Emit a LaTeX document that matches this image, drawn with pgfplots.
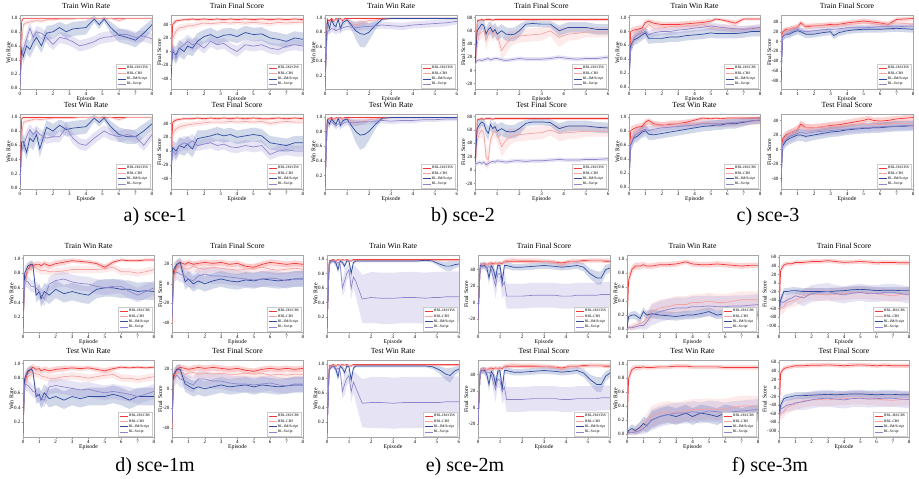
\documentclass[border=0pt]{standalone}
\usepackage{pgfplots}
\pgfplotsset{compat=1.18}
\usepackage{pgfplotstable}
\usepgfplotslibrary{fillbetween}
\usepackage{fontspec}
\setmainfont{Liberation Serif}

\definecolor{cA}{HTML}{F03A3A}
\definecolor{cB}{HTML}{F4A3A3}
\definecolor{cC}{HTML}{2F4C9E}
\definecolor{cD}{HTML}{8E86CC}

% columns: x, mean and half band of HRL-IM/CBS (a), HRL-CBS (b), RL-IM/Script (c), RL-Script (d)
% ---------------- sce-1 ----------------
\pgfplotstableread{
x a da b db c dc d dd
0 0.05 0.02 0.05 0.02 0.05 0.03 0.05 0.03
0.1 0.95 0.03 0.6 0.1 0.55 0.1 0.45 0.1
0.2 0.99 0.01 0.9 0.04 0.45 0.1 0.55 0.1
0.4 0.99 0.01 0.93 0.03 0.6 0.1 0.7 0.1
0.6 0.99 0.01 0.94 0.03 0.55 0.12 0.85 0.08
0.8 0.99 0.01 0.95 0.03 0.65 0.12 0.72 0.08
1.0 0.99 0.01 0.96 0.02 0.72 0.1 0.8 0.08
1.3 0.99 0.01 0.95 0.03 0.6 0.1 0.78 0.08
1.6 0.99 0.01 0.97 0.02 0.78 0.1 0.72 0.08
2.0 0.99 0.01 0.97 0.02 0.8 0.1 0.62 0.08
2.4 0.99 0.01 0.98 0.01 0.86 0.08 0.72 0.08
2.8 0.99 0.01 0.98 0.01 0.8 0.1 0.7 0.08
3.2 0.99 0.01 0.98 0.01 0.84 0.1 0.66 0.08
3.6 0.99 0.01 0.99 0.01 0.85 0.1 0.6 0.08
4.0 0.99 0.01 0.99 0.01 0.86 0.1 0.62 0.08
4.5 0.99 0.01 0.99 0.01 0.98 0.05 0.66 0.08
4.8 0.99 0.01 0.99 0.01 0.9 0.06 0.7 0.08
5.1 0.99 0.01 0.98 0.01 0.98 0.04 0.72 0.08
5.5 0.99 0.01 0.99 0.01 0.86 0.08 0.73 0.08
6.0 0.99 0.01 0.96 0.03 0.75 0.1 0.76 0.08
6.5 0.99 0.01 0.99 0.01 0.72 0.1 0.76 0.08
7.0 0.99 0.01 0.99 0.01 0.68 0.1 0.72 0.08
7.5 0.99 0.01 0.99 0.01 0.78 0.1 0.74 0.08
8.0 0.99 0.01 0.99 0.01 0.9 0.08 0.7 0.08
}\sAtrw
\pgfplotstableread{
x a da b db c dc d dd
0 -40 3 -30 5 -35 8 -25 8
0.1 40 4 20 8 0 10 5 10
0.3 45 3 30 6 -5 12 -10 10
0.5 46 2 35 5 5 12 5 10
0.8 47 2 36 5 0 12 10 10
1.0 47 2 38 4 8 12 15 10
1.3 48 2 38 4 5 12 10 10
1.6 47 2 40 4 15 12 12 8
2.0 48 2 42 4 22 10 5 8
2.4 47 2 41 3 25 10 15 8
2.8 48 2 42 3 20 10 10 8
3.2 47 2 43 3 24 10 12 8
3.6 48 2 42 3 25 10 5 8
4.0 47 2 43 3 22 10 0 8
4.5 48 2 42 3 28 10 10 8
5.0 47 2 43 3 25 10 8 8
5.5 48 2 42 3 26 10 10 8
6.0 47 2 41 4 20 10 5 8
6.5 48 2 43 3 18 10 3 8
7.0 47 2 42 3 15 10 8 8
7.5 48 2 43 3 20 10 10 8
8.0 47 2 43 3 18 10 8 8
}\sAtrs
\pgfplotstableread{
x a da b db c dc d dd
0 0.05 0.02 0.05 0.02 0.05 0.03 0.05 0.03
0.1 0.97 0.03 0.7 0.1 0.65 0.1 0.5 0.1
0.2 0.99 0.01 0.92 0.04 0.65 0.1 0.6 0.1
0.4 0.99 0.01 0.94 0.03 0.5 0.1 0.72 0.1
0.6 0.99 0.01 0.95 0.03 0.7 0.12 0.82 0.08
0.8 0.99 0.01 0.96 0.03 0.65 0.12 0.75 0.08
1.0 0.99 0.01 0.97 0.02 0.75 0.1 0.8 0.08
1.2 0.99 0.01 0.96 0.03 0.55 0.12 0.75 0.08
1.6 0.99 0.01 0.97 0.02 0.85 0.1 0.7 0.08
2.0 0.99 0.01 0.98 0.02 0.8 0.1 0.72 0.08
2.4 0.99 0.01 0.98 0.01 0.88 0.08 0.72 0.08
2.8 0.99 0.01 0.98 0.01 0.82 0.1 0.85 0.08
3.2 0.99 0.01 0.98 0.01 0.84 0.1 0.7 0.08
3.6 0.99 0.01 0.99 0.01 0.85 0.1 0.62 0.08
4.0 0.99 0.01 0.99 0.01 0.86 0.1 0.6 0.08
4.5 0.99 0.01 0.99 0.01 0.98 0.05 0.7 0.08
4.8 0.99 0.01 0.99 0.01 0.92 0.06 0.75 0.08
5.1 0.99 0.01 0.98 0.01 0.98 0.04 0.8 0.08
5.5 0.99 0.01 0.99 0.01 0.86 0.08 0.75 0.08
6.0 0.99 0.01 0.96 0.03 0.75 0.1 0.72 0.08
6.5 0.99 0.01 0.99 0.01 0.72 0.1 0.75 0.08
7.0 0.99 0.01 0.99 0.01 0.72 0.1 0.72 0.08
7.5 0.99 0.01 0.99 0.01 0.8 0.1 0.6 0.08
8.0 0.99 0.01 0.99 0.01 0.9 0.08 0.75 0.08
}\sAtew
\pgfplotstableread{
x a da b db c dc d dd
0 -40 3 -30 5 -35 8 -25 8
0.1 42 4 25 8 5 10 0 10
0.3 45 3 32 6 0 12 -5 10
0.5 46 2 35 5 8 12 8 10
0.8 47 2 37 5 5 12 12 10
1.0 47 2 38 4 10 12 10 10
1.3 47 2 39 4 3 12 15 10
1.6 48 2 40 4 18 12 8 8
2.0 47 2 41 4 20 10 10 8
2.4 48 2 42 3 22 10 12 8
2.8 47 2 42 3 25 10 8 8
3.2 48 2 42 3 22 10 10 8
3.6 47 2 43 3 24 10 6 8
4.0 48 2 42 3 20 10 5 8
4.5 47 2 43 3 22 10 8 8
5.0 48 2 42 3 24 10 6 8
5.5 47 2 43 3 22 10 8 8
6.0 47 2 40 4 12 10 -5 8
6.5 48 2 42 3 10 10 0 8
7.0 47 2 43 3 8 10 2 8
7.5 48 2 42 3 12 10 0 8
8.0 47 2 42 3 12 10 0 8
}\sAtes
% ---------------- sce-2 ----------------
\pgfplotstableread{
x a da b db c dc d dd
0 0.05 0.02 0.05 0.02 0.05 0.02 0.05 0.02
0.1 0.97 0.02 0.9 0.05 0.97 0.03 0.8 0.05
0.2 0.96 0.02 0.95 0.03 0.85 0.08 0.83 0.05
0.3 0.99 0.01 0.97 0.02 0.97 0.03 0.85 0.05
0.4 0.95 0.03 0.96 0.02 0.9 0.05 0.84 0.05
0.5 0.99 0.01 0.97 0.02 0.88 0.06 0.82 0.05
0.6 0.98 0.01 0.98 0.01 0.98 0.02 0.84 0.05
0.7 0.99 0.01 0.97 0.02 0.85 0.08 0.85 0.05
0.8 0.96 0.02 0.98 0.01 0.93 0.05 0.86 0.05
0.9 0.99 0.01 0.97 0.02 0.95 0.04 0.87 0.05
1.0 0.99 0.01 0.98 0.01 0.97 0.03 0.88 0.05
1.2 0.99 0.01 0.92 0.04 0.9 0.06 0.87 0.05
1.4 0.99 0.01 0.9 0.05 0.82 0.12 0.86 0.05
1.6 0.99 0.01 0.92 0.05 0.78 0.18 0.87 0.05
1.8 0.99 0.01 0.94 0.04 0.77 0.18 0.88 0.05
2.0 0.99 0.01 0.96 0.03 0.8 0.12 0.88 0.05
2.3 0.99 0.01 0.97 0.02 0.9 0.06 0.89 0.05
2.6 0.99 0.01 0.98 0.01 0.98 0.02 0.9 0.05
3.0 0.99 0.01 0.99 0.01 0.99 0.01 0.89 0.05
3.5 0.99 0.01 0.99 0.01 0.99 0.01 0.88 0.05
4.0 0.99 0.01 0.99 0.01 0.99 0.01 0.9 0.05
4.5 0.99 0.01 0.99 0.01 0.99 0.01 0.91 0.05
5.0 0.99 0.01 0.99 0.01 0.99 0.01 0.92 0.05
5.5 0.99 0.01 0.99 0.01 0.99 0.01 0.93 0.05
6.0 0.99 0.01 0.99 0.01 0.99 0.01 0.95 0.04
}\sBtrw
\pgfplotstableread{
x a da b db c dc d dd
0 -5 5 0 5 10 5 10 5
0.1 75 3 40 10 60 10 15 3
0.2 76 2 55 10 65 10 16 3
0.3 77 2 58 10 70 8 15 3
0.4 76 2 60 10 68 8 16 3
0.5 77 2 45 15 55 10 17 3
0.6 77 2 55 12 62 10 18 3
0.7 77 2 60 10 65 10 16 3
0.8 76 2 55 12 58 10 17 3
0.9 77 2 58 10 62 10 18 3
1.0 77 2 55 12 55 10 18 3
1.2 77 2 30 15 60 10 16 3
1.4 77 2 40 15 55 10 15 3
1.6 77 2 48 12 54 10 16 3
1.8 77 2 50 10 55 10 17 3
2.0 77 2 52 10 60 10 18 3
2.3 77 2 53 10 70 5 17 3
2.6 77 2 54 10 71 5 17 3
3.0 77 2 55 10 70 5 17 3
3.4 77 2 60 8 70 5 18 3
3.8 77 2 50 15 60 8 20 3
4.2 77 2 55 10 65 8 18 3
4.6 77 2 56 10 65 8 17 3
5.0 77 2 58 8 65 8 18 3
5.5 77 2 58 8 62 8 18 3
6.0 77 2 58 8 62 8 20 3
}\sBtrs
\pgfplotstableread{
x a da b db c dc d dd
0 0.05 0.02 0.05 0.02 0.05 0.02 0.05 0.02
0.1 0.96 0.03 0.9 0.05 0.95 0.03 0.9 0.05
0.2 0.98 0.02 0.95 0.03 0.9 0.06 0.92 0.05
0.3 0.99 0.01 0.97 0.02 0.97 0.03 0.93 0.04
0.4 0.96 0.02 0.96 0.02 0.93 0.04 0.9 0.05
0.5 0.99 0.01 0.97 0.02 0.9 0.05 0.88 0.05
0.6 0.98 0.01 0.98 0.01 0.98 0.02 0.9 0.05
0.7 0.99 0.01 0.96 0.02 0.88 0.06 0.92 0.05
0.8 0.97 0.02 0.98 0.01 0.94 0.04 0.9 0.05
0.9 0.99 0.01 0.97 0.02 0.96 0.03 0.92 0.05
1.0 0.99 0.01 0.98 0.01 0.97 0.03 0.93 0.05
1.2 0.99 0.01 0.94 0.04 0.88 0.08 0.92 0.05
1.4 0.99 0.01 0.92 0.05 0.8 0.15 0.92 0.05
1.6 0.99 0.01 0.93 0.05 0.75 0.2 0.93 0.04
1.8 0.99 0.01 0.95 0.04 0.76 0.18 0.93 0.04
2.0 0.99 0.01 0.96 0.03 0.8 0.12 0.94 0.04
2.3 0.99 0.01 0.97 0.02 0.9 0.06 0.94 0.04
2.6 0.99 0.01 0.98 0.01 0.98 0.02 0.95 0.04
3.0 0.99 0.01 0.99 0.01 0.99 0.01 0.94 0.04
3.5 0.99 0.01 0.99 0.01 0.99 0.01 0.95 0.04
4.0 0.99 0.01 0.99 0.01 0.99 0.01 0.95 0.04
4.5 0.99 0.01 0.99 0.01 0.99 0.01 0.96 0.03
5.0 0.99 0.01 0.99 0.01 0.99 0.01 0.96 0.03
5.5 0.99 0.01 0.99 0.01 0.99 0.01 0.97 0.03
6.0 0.99 0.01 0.99 0.01 0.99 0.01 0.97 0.03
}\sBtew
\pgfplotstableread{
x a da b db c dc d dd
0 -5 5 0 5 10 5 10 5
0.1 75 3 45 10 62 10 10 3
0.2 76 2 55 10 68 8 12 3
0.3 77 2 60 10 72 6 10 3
0.4 76 2 55 12 70 6 12 3
0.5 77 2 20 15 60 10 8 3
0.6 77 2 15 15 55 10 10 3
0.7 77 2 45 12 68 8 12 3
0.8 76 2 55 10 62 8 13 3
0.9 77 2 58 10 65 8 12 3
1.0 77 2 55 12 58 10 14 3
1.2 77 2 35 15 62 10 13 3
1.4 77 2 45 15 58 10 12 3
1.6 77 2 50 12 57 10 13 3
1.8 77 2 52 10 58 10 14 3
2.0 77 2 53 10 62 10 14 3
2.3 77 2 54 10 70 5 13 3
2.6 77 2 55 10 72 5 14 3
3.0 77 2 56 10 72 5 14 3
3.4 77 2 60 8 71 5 15 3
3.8 77 2 55 12 62 8 16 3
4.2 77 2 56 10 66 8 15 3
4.6 77 2 57 10 66 8 15 3
5.0 77 2 58 8 66 8 16 3
5.5 77 2 58 8 64 8 16 3
6.0 77 2 58 8 63 8 17 3
}\sBtes
% ---------------- sce-3 ----------------
\pgfplotstableread{
x a da b db c dc d dd
0 0.05 0.03 0.05 0.03 0.05 0.03 0.05 0.03
0.1 0.8 0.05 0.6 0.1 0.6 0.1 0.55 0.1
0.3 0.82 0.05 0.72 0.08 0.68 0.08 0.7 0.08
0.5 0.83 0.05 0.75 0.08 0.7 0.08 0.75 0.08
0.8 0.85 0.05 0.8 0.06 0.75 0.08 0.78 0.08
1.0 0.93 0.04 0.85 0.06 0.78 0.08 0.8 0.06
1.2 0.95 0.03 0.9 0.05 0.7 0.08 0.75 0.06
1.5 0.92 0.04 0.85 0.05 0.7 0.07 0.78 0.06
2.0 0.9 0.04 0.85 0.05 0.7 0.07 0.8 0.05
2.5 0.9 0.04 0.87 0.05 0.72 0.07 0.8 0.05
3.0 0.9 0.04 0.88 0.05 0.72 0.07 0.82 0.05
3.5 0.91 0.04 0.88 0.05 0.74 0.07 0.83 0.05
4.0 0.92 0.04 0.88 0.05 0.75 0.07 0.85 0.05
4.5 0.93 0.04 0.9 0.05 0.76 0.07 0.86 0.05
5.0 0.95 0.03 0.86 0.05 0.78 0.07 0.88 0.05
5.3 0.98 0.02 0.85 0.05 0.77 0.07 0.87 0.05
5.6 0.97 0.02 0.85 0.05 0.77 0.07 0.86 0.05
6.0 0.95 0.03 0.85 0.05 0.77 0.07 0.85 0.05
6.5 0.92 0.04 0.83 0.05 0.77 0.07 0.84 0.05
7.0 0.98 0.02 0.83 0.05 0.78 0.07 0.83 0.05
7.5 0.98 0.02 0.84 0.05 0.8 0.07 0.84 0.05
8.0 0.98 0.02 0.85 0.05 0.8 0.07 0.86 0.05
}\sCtrw
\pgfplotstableread{
x a da b db c dc d dd
0 -60 10 -50 10 -80 10 -70 10
0.1 20 6 15 8 10 8 10 8
0.3 25 5 22 6 15 8 15 8
0.5 25 5 25 6 15 8 18 8
0.8 28 5 28 6 20 8 22 8
1.0 30 5 30 6 22 8 25 6
1.2 38 5 35 6 20 8 22 6
1.5 30 5 32 6 15 8 20 6
2.0 32 5 32 5 15 7 22 6
2.5 33 5 32 5 18 7 24 6
3.0 35 5 33 5 20 7 25 6
3.2 34 5 33 5 12 7 25 6
3.5 35 5 34 5 18 7 26 6
4.0 38 5 35 5 22 7 28 6
4.5 40 5 36 5 24 7 28 6
5.0 42 5 38 5 25 7 28 6
5.5 40 5 37 5 25 7 29 6
6.0 38 5 35 5 25 7 30 6
6.5 35 5 36 5 26 7 30 6
7.0 45 4 38 5 27 7 30 6
7.5 46 4 37 5 26 7 31 6
8.0 47 4 35 5 25 7 32 6
}\sCtrs
\pgfplotstableread{
x a da b db c dc d dd
0 0.05 0.03 0.05 0.03 0.05 0.03 0.05 0.03
0.1 0.8 0.06 0.65 0.1 0.6 0.1 0.6 0.1
0.3 0.83 0.05 0.75 0.08 0.7 0.08 0.72 0.08
0.5 0.85 0.05 0.78 0.08 0.72 0.08 0.76 0.08
0.8 0.86 0.05 0.82 0.06 0.78 0.08 0.8 0.08
1.0 0.92 0.04 0.88 0.06 0.8 0.08 0.82 0.06
1.2 0.95 0.03 0.9 0.05 0.75 0.08 0.8 0.06
1.5 0.9 0.04 0.88 0.05 0.74 0.07 0.82 0.06
2.0 0.88 0.04 0.88 0.05 0.76 0.07 0.84 0.05
2.5 0.89 0.04 0.9 0.05 0.78 0.07 0.85 0.05
3.0 0.9 0.04 0.9 0.05 0.8 0.07 0.86 0.05
3.5 0.92 0.04 0.9 0.05 0.82 0.07 0.87 0.05
4.0 0.95 0.03 0.9 0.05 0.84 0.07 0.88 0.05
4.5 0.98 0.02 0.92 0.05 0.86 0.07 0.9 0.05
5.0 0.97 0.02 0.9 0.05 0.87 0.07 0.9 0.05
5.3 0.98 0.02 0.9 0.05 0.88 0.07 0.9 0.05
5.6 0.97 0.02 0.9 0.05 0.88 0.07 0.9 0.05
6.0 0.98 0.02 0.9 0.05 0.9 0.07 0.91 0.05
6.5 0.98 0.02 0.9 0.05 0.9 0.07 0.92 0.05
7.0 0.98 0.02 0.92 0.05 0.92 0.06 0.93 0.05
7.5 0.98 0.02 0.93 0.05 0.94 0.05 0.94 0.05
8.0 0.98 0.02 0.94 0.05 0.95 0.05 0.95 0.05
}\sCtew
\pgfplotstableread{
x a da b db c dc d dd
0 -40 5 -35 5 -45 5 -45 5
0.1 15 6 10 8 5 8 8 8
0.3 20 5 18 6 12 8 14 8
0.5 22 5 22 6 15 8 18 8
0.8 25 5 25 6 18 8 20 8
1.0 28 5 28 6 20 8 22 6
1.2 35 5 32 6 20 8 24 6
1.5 30 5 30 6 18 8 22 6
2.0 30 5 30 5 20 7 24 6
2.5 31 5 31 5 22 7 25 6
3.0 33 5 32 5 24 7 26 6
3.5 34 5 32 5 25 7 27 6
4.0 36 5 33 5 27 7 28 6
4.5 38 5 34 5 28 7 29 6
5.0 40 5 35 5 29 7 30 6
5.3 42 4 34 5 29 7 30 6
5.6 40 4 34 5 30 7 31 6
6.0 39 5 34 5 30 7 31 6
6.5 40 5 35 5 31 7 32 6
7.0 42 4 36 5 32 7 32 6
7.5 43 4 36 5 32 7 33 6
8.0 44 4 35 5 33 7 33 6
}\sCtes
% ---------------- sce-1m ----------------
\pgfplotstableread{
x a da b db c dc d dd
0 0.05 0.03 0.05 0.03 0.05 0.03 0.05 0.03
0.1 0.7 0.1 0.6 0.1 0.8 0.08 0.7 0.08
0.3 0.85 0.06 0.85 0.06 0.9 0.05 0.68 0.08
0.5 0.92 0.04 0.85 0.05 0.92 0.05 0.62 0.08
0.6 0.9 0.04 0.9 0.05 0.92 0.05 0.62 0.08
0.8 0.92 0.04 0.87 0.05 0.5 0.1 0.6 0.08
1.0 0.92 0.04 0.85 0.05 0.55 0.1 0.55 0.1
1.1 0.9 0.04 0.83 0.05 0.45 0.12 0.5 0.1
1.3 0.93 0.04 0.84 0.05 0.55 0.12 0.45 0.1
1.6 0.9 0.04 0.82 0.05 0.5 0.12 0.65 0.1
2.0 0.93 0.04 0.82 0.05 0.58 0.12 0.7 0.1
2.5 0.95 0.04 0.83 0.05 0.52 0.12 0.72 0.1
3.0 0.97 0.03 0.85 0.05 0.55 0.12 0.68 0.1
3.5 0.96 0.03 0.85 0.05 0.52 0.12 0.66 0.1
4.0 0.95 0.03 0.85 0.05 0.5 0.12 0.65 0.1
4.5 0.93 0.03 0.85 0.05 0.58 0.12 0.62 0.1
5.0 0.88 0.04 0.86 0.05 0.6 0.12 0.6 0.1
5.5 0.95 0.03 0.88 0.05 0.6 0.12 0.62 0.1
6.0 0.98 0.02 0.82 0.05 0.58 0.12 0.62 0.1
6.5 0.97 0.02 0.82 0.05 0.58 0.12 0.55 0.1
7.0 0.97 0.02 0.8 0.05 0.55 0.12 0.5 0.1
7.5 0.98 0.02 0.82 0.05 0.56 0.12 0.55 0.1
8.0 0.98 0.02 0.85 0.05 0.55 0.12 0.6 0.1
}\sDtrw
\pgfplotstableread{
x a da b db c dc d dd
0 -40 5 -40 5 -35 5 -35 5
0.1 10 6 5 8 15 6 10 8
0.3 20 4 15 5 20 5 12 8
0.5 22 3 18 5 22 5 10 8
0.8 20 3 16 5 2 8 8 8
1.0 22 3 15 5 5 8 5 8
1.3 20 3 18 5 0 8 3 8
1.6 21 3 16 5 3 8 8 8
2.0 22 3 15 5 0 8 10 8
2.5 21 3 17 5 3 8 8 8
3.0 22 3 16 5 5 8 8 8
3.5 20 3 15 5 3 8 7 8
4.0 21 3 14 5 2 8 6 8
4.5 18 3 15 5 4 8 5 8
5.0 17 3 16 5 3 8 4 8
5.5 20 3 17 5 5 8 5 8
6.0 22 3 15 5 4 8 6 8
6.5 21 3 14 5 3 8 5 8
7.0 20 3 15 5 4 8 3 8
7.5 21 3 16 5 5 8 5 8
8.0 20 3 15 5 5 8 6 8
}\sDtrs
\pgfplotstableread{
x a da b db c dc d dd
0 0.05 0.03 0.05 0.03 0.05 0.03 0.05 0.03
0.1 0.75 0.1 0.65 0.1 0.8 0.08 0.72 0.08
0.3 0.88 0.06 0.82 0.06 0.9 0.05 0.7 0.08
0.5 0.93 0.04 0.85 0.05 0.92 0.05 0.65 0.08
0.6 0.95 0.04 0.88 0.05 0.9 0.05 0.62 0.08
0.8 0.92 0.04 0.86 0.05 0.55 0.1 0.6 0.08
1.0 0.93 0.04 0.85 0.05 0.58 0.1 0.55 0.1
1.1 0.9 0.04 0.83 0.05 0.5 0.12 0.52 0.1
1.3 0.92 0.04 0.82 0.05 0.6 0.12 0.5 0.1
1.6 0.9 0.04 0.8 0.05 0.52 0.12 0.68 0.1
2.0 0.92 0.04 0.8 0.05 0.55 0.12 0.7 0.1
2.5 0.93 0.04 0.82 0.05 0.5 0.12 0.68 0.1
3.0 0.94 0.03 0.83 0.05 0.55 0.12 0.66 0.1
3.5 0.93 0.03 0.82 0.05 0.52 0.12 0.64 0.1
4.0 0.94 0.03 0.8 0.05 0.55 0.12 0.65 0.1
4.5 0.92 0.03 0.82 0.05 0.55 0.12 0.62 0.1
5.0 0.9 0.04 0.84 0.05 0.55 0.12 0.6 0.1
5.5 0.93 0.03 0.85 0.05 0.58 0.12 0.62 0.1
6.0 0.95 0.02 0.8 0.05 0.55 0.12 0.6 0.1
6.5 0.94 0.02 0.8 0.05 0.5 0.12 0.58 0.1
7.0 0.95 0.02 0.78 0.05 0.55 0.12 0.55 0.1
7.5 0.94 0.02 0.8 0.05 0.55 0.12 0.58 0.1
8.0 0.95 0.02 0.82 0.05 0.55 0.12 0.62 0.1
}\sDtew
\pgfplotstableread{
x a da b db c dc d dd
0 -40 5 -40 5 -35 5 -35 5
0.1 12 6 8 8 15 6 10 8
0.3 20 4 18 5 20 5 14 8
0.5 22 3 16 5 20 5 10 8
0.8 21 3 15 5 5 8 8 8
1.0 20 3 16 5 3 8 6 8
1.3 21 3 17 5 0 8 4 8
1.6 22 3 15 5 2 8 10 8
2.0 21 3 16 5 0 8 10 8
2.5 22 3 15 5 2 8 8 8
3.0 21 3 16 5 4 8 8 8
3.5 20 3 15 5 2 8 6 8
4.0 21 3 15 5 3 8 5 8
4.5 19 3 16 5 4 8 5 8
5.0 18 3 15 5 2 8 4 8
5.5 20 3 16 5 4 8 5 8
6.0 21 3 14 5 3 8 6 8
6.5 20 3 15 5 2 8 4 8
7.0 21 3 14 5 3 8 3 8
7.5 20 3 15 5 4 8 5 8
8.0 21 3 15 5 4 8 5 8
}\sDtes
% ---------------- sce-2m ----------------
\pgfplotstableread{
x a da b db c dc d dd
0 0.05 0.02 0.05 0.02 0.05 0.02 0.05 0.02
0.1 0.97 0.02 0.95 0.03 0.93 0.03 0.95 0.03
0.2 0.98 0.01 0.97 0.02 0.97 0.02 0.96 0.03
0.3 0.99 0.01 0.98 0.01 0.97 0.02 0.97 0.03
0.4 0.97 0.02 0.97 0.02 0.95 0.03 0.93 0.05
0.5 0.99 0.01 0.98 0.01 0.85 0.05 0.95 0.04
0.6 0.98 0.01 0.98 0.01 0.97 0.02 0.92 0.05
0.7 0.99 0.01 0.97 0.02 0.95 0.03 0.6 0.1
0.8 0.98 0.01 0.98 0.01 0.9 0.04 0.7 0.15
0.9 0.99 0.01 0.97 0.02 0.97 0.02 0.8 0.1
1.0 0.98 0.01 0.98 0.01 0.97 0.02 0.85 0.1
1.1 0.97 0.02 0.97 0.02 0.8 0.06 0.6 0.15
1.2 0.99 0.01 0.98 0.01 0.95 0.03 0.75 0.15
1.3 0.99 0.01 0.98 0.01 0.97 0.02 0.7 0.2
1.6 0.99 0.01 0.98 0.01 0.97 0.02 0.45 0.33
2.0 0.99 0.01 0.98 0.01 0.97 0.02 0.47 0.35
2.5 0.99 0.01 0.98 0.01 0.97 0.02 0.46 0.35
3.0 0.99 0.01 0.98 0.01 0.97 0.02 0.46 0.35
3.5 0.99 0.01 0.98 0.01 0.97 0.02 0.47 0.35
4.0 0.99 0.01 0.98 0.01 0.97 0.02 0.47 0.35
4.5 0.99 0.01 0.98 0.01 0.98 0.02 0.46 0.35
4.8 0.99 0.01 0.98 0.01 0.97 0.02 0.47 0.35
5.1 0.99 0.01 0.98 0.01 0.93 0.04 0.47 0.35
5.4 0.99 0.01 0.98 0.01 0.9 0.06 0.48 0.35
5.6 0.99 0.01 0.98 0.01 0.9 0.07 0.48 0.35
5.8 0.99 0.01 0.98 0.01 0.92 0.05 0.48 0.35
6.0 0.99 0.01 0.98 0.01 0.93 0.04 0.48 0.35
}\sEtrw
\pgfplotstableread{
x a da b db c dc d dd
0 -20 5 -20 5 -20 5 -20 5
0.1 45 3 44 4 45 4 43 4
0.2 46 2 46 3 44 4 45 4
0.3 47 2 47 3 45 4 44 4
0.4 46 2 46 3 42 5 42 5
0.5 47 2 47 3 30 8 44 5
0.6 48 2 47 3 45 4 40 6
0.7 47 2 46 3 40 6 30 10
0.8 48 2 48 3 30 8 20 15
0.9 47 2 47 3 45 4 35 10
1.0 48 2 48 3 45 4 35 10
1.1 47 2 48 3 25 8 20 15
1.2 50 2 50 3 45 4 25 15
1.3 50 2 51 3 45 4 8 15
1.6 50 2 52 3 43 4 8 15
2.0 50 2 51 3 43 4 8 15
2.5 50 2 51 3 44 4 9 15
3.0 50 2 50 3 45 4 9 15
3.5 49 2 49 3 44 4 9 15
3.8 48 2 45 4 43 4 8 15
4.2 50 2 50 3 44 4 8 15
4.5 50 2 50 3 45 4 9 15
4.8 51 2 50 3 43 5 9 15
5.1 51 2 51 3 35 6 9 15
5.4 51 2 51 3 30 8 9 15
5.6 51 2 51 3 30 8 10 15
5.8 50 2 51 3 40 6 10 15
6.0 50 2 51 3 42 5 10 15
}\sEtrs
\pgfplotstableread{
x a da b db c dc d dd
0 0.05 0.02 0.05 0.02 0.05 0.02 0.05 0.02
0.1 0.97 0.02 0.95 0.03 0.92 0.04 0.94 0.03
0.2 0.98 0.01 0.97 0.02 0.96 0.02 0.96 0.03
0.3 0.99 0.01 0.98 0.01 0.97 0.02 0.96 0.03
0.4 0.97 0.02 0.97 0.02 0.93 0.04 0.92 0.05
0.5 0.99 0.01 0.98 0.01 0.82 0.06 0.94 0.04
0.6 0.98 0.01 0.98 0.01 0.97 0.02 0.9 0.05
0.7 0.99 0.01 0.97 0.02 0.94 0.03 0.62 0.1
0.8 0.98 0.01 0.98 0.01 0.88 0.05 0.72 0.15
0.9 0.99 0.01 0.97 0.02 0.97 0.02 0.8 0.1
1.0 0.98 0.01 0.98 0.01 0.96 0.02 0.84 0.1
1.1 0.97 0.02 0.97 0.02 0.78 0.06 0.62 0.15
1.2 0.99 0.01 0.98 0.01 0.94 0.03 0.75 0.15
1.3 0.99 0.01 0.98 0.01 0.97 0.02 0.68 0.2
1.6 0.99 0.01 0.98 0.01 0.97 0.02 0.46 0.33
2.0 0.99 0.01 0.98 0.01 0.97 0.02 0.47 0.35
2.5 0.99 0.01 0.98 0.01 0.97 0.02 0.47 0.35
3.0 0.99 0.01 0.98 0.01 0.97 0.02 0.46 0.35
3.5 0.99 0.01 0.98 0.01 0.97 0.02 0.47 0.35
4.0 0.99 0.01 0.98 0.01 0.97 0.02 0.47 0.35
4.5 0.99 0.01 0.98 0.01 0.97 0.02 0.47 0.35
4.8 0.99 0.01 0.98 0.01 0.96 0.03 0.47 0.35
5.1 0.99 0.01 0.98 0.01 0.92 0.05 0.47 0.35
5.4 0.99 0.01 0.98 0.01 0.86 0.08 0.48 0.35
5.6 0.99 0.01 0.98 0.01 0.84 0.1 0.48 0.35
5.8 0.99 0.01 0.98 0.01 0.9 0.06 0.48 0.35
6.0 0.99 0.01 0.98 0.01 0.93 0.04 0.48 0.35
}\sEtew
\pgfplotstableread{
x a da b db c dc d dd
0 -20 5 -20 5 -20 5 -20 5
0.1 44 3 44 4 44 4 43 4
0.2 46 2 46 3 45 4 45 4
0.3 47 2 47 3 45 4 44 4
0.4 46 2 46 3 40 5 42 5
0.5 47 2 47 3 28 8 43 5
0.6 48 2 47 3 44 4 40 6
0.7 47 2 46 3 40 6 30 10
0.8 48 2 48 3 28 8 22 15
0.9 47 2 47 3 44 4 35 10
1.0 48 2 48 3 45 4 33 10
1.1 47 2 48 3 22 8 20 15
1.2 50 2 50 3 45 4 25 15
1.3 50 2 51 3 45 4 10 15
1.6 50 2 52 3 43 4 10 15
2.0 50 2 51 3 43 4 10 15
2.5 50 2 51 3 44 4 11 15
3.0 50 2 50 3 45 4 11 15
3.5 49 2 49 3 44 4 11 15
3.8 48 2 46 4 43 4 10 15
4.2 50 2 50 3 44 4 10 15
4.5 50 2 50 3 45 4 11 15
4.8 51 2 50 3 42 5 11 15
5.1 51 2 51 3 34 6 11 15
5.4 51 2 51 3 28 9 11 15
5.6 51 2 51 3 28 9 12 15
5.8 50 2 51 3 38 6 12 15
6.0 50 2 51 3 42 5 12 15
}\sEtes
% ---------------- sce-3m ----------------
\pgfplotstableread{
x a da b db c dc d dd
0 0.05 0.03 0.0 0.02 0.0 0.02 0.0 0.02
0.1 0.7 0.1 0.02 0.03 0.18 0.05 0.02 0.03
0.3 0.85 0.06 0.03 0.05 0.2 0.05 0.02 0.03
0.5 0.9 0.05 0.05 0.05 0.2 0.06 0.03 0.04
0.8 0.9 0.05 0.08 0.06 0.15 0.06 0.05 0.05
1.0 0.92 0.04 0.1 0.08 0.25 0.06 0.05 0.06
1.2 0.9 0.04 0.15 0.1 0.2 0.06 0.1 0.1
1.5 0.9 0.04 0.25 0.12 0.22 0.06 0.2 0.15
2.0 0.92 0.04 0.3 0.12 0.2 0.06 0.25 0.15
2.5 0.92 0.04 0.32 0.12 0.19 0.06 0.28 0.15
3.0 0.93 0.04 0.35 0.12 0.18 0.06 0.3 0.15
3.6 0.96 0.03 0.35 0.12 0.2 0.06 0.3 0.15
4.0 0.93 0.04 0.38 0.12 0.2 0.06 0.32 0.15
4.5 0.92 0.04 0.38 0.12 0.22 0.06 0.32 0.15
5.0 0.92 0.04 0.4 0.12 0.25 0.06 0.33 0.15
5.5 0.93 0.04 0.38 0.12 0.2 0.06 0.32 0.15
6.0 0.92 0.04 0.38 0.12 0.22 0.06 0.32 0.15
6.5 0.91 0.04 0.4 0.12 0.2 0.06 0.33 0.15
7.0 0.9 0.04 0.42 0.12 0.2 0.06 0.33 0.15
7.5 0.91 0.04 0.42 0.12 0.2 0.06 0.34 0.15
8.0 0.91 0.04 0.42 0.12 0.2 0.06 0.35 0.15
}\sFtrw
\pgfplotstableread{
x a da b db c dc d dd
0 -80 10 -70 10 -70 10 -70 10
0.1 30 8 -60 15 -40 10 -45 15
0.3 42 6 -55 15 -20 8 -45 15
0.5 45 5 -45 15 -20 8 -40 15
0.8 45 5 -42 15 -18 8 -35 15
1.0 48 5 -40 15 -18 8 -30 15
1.5 48 5 -30 15 -20 8 -35 20
2.0 50 5 -25 15 -20 8 -25 20
2.5 50 5 -27 15 -20 8 -22 20
3.0 52 5 -28 15 -20 8 -20 20
3.5 50 5 -26 15 -19 8 -25 20
4.0 48 5 -25 15 -18 8 -28 20
4.5 49 5 -23 15 -16 8 -24 20
5.0 50 5 -22 15 -15 8 -22 20
5.5 49 5 -24 15 -16 8 -25 20
6.0 47 5 -25 15 -18 8 -25 20
6.5 48 5 -28 15 -17 8 -22 20
7.0 48 5 -30 15 -17 8 -22 20
7.5 47 5 -27 15 -18 8 -25 20
8.0 47 5 -25 15 -18 8 -28 20
}\sFtrs
\pgfplotstableread{
x a da b db c dc d dd
0 0.05 0.03 0.0 0.02 0.0 0.02 0.0 0.02
0.1 0.8 0.08 0.02 0.03 0.05 0.05 0.02 0.03
0.3 0.92 0.05 0.03 0.05 0.08 0.06 0.02 0.03
0.5 0.95 0.04 0.05 0.06 0.05 0.06 0.03 0.04
0.8 0.95 0.04 0.08 0.08 0.1 0.08 0.05 0.05
1.0 0.96 0.03 0.12 0.1 0.15 0.1 0.08 0.08
1.2 0.95 0.03 0.18 0.12 0.12 0.1 0.12 0.1
1.5 0.95 0.03 0.25 0.15 0.2 0.12 0.2 0.15
2.0 0.96 0.03 0.3 0.15 0.25 0.12 0.25 0.15
2.5 0.96 0.03 0.32 0.15 0.28 0.12 0.28 0.15
3.0 0.97 0.03 0.3 0.15 0.25 0.12 0.3 0.15
3.6 0.97 0.03 0.33 0.15 0.3 0.12 0.3 0.15
4.0 0.96 0.03 0.35 0.15 0.25 0.12 0.32 0.15
4.5 0.96 0.03 0.35 0.15 0.3 0.12 0.3 0.15
5.0 0.96 0.03 0.36 0.15 0.28 0.12 0.33 0.15
5.5 0.96 0.03 0.35 0.15 0.25 0.12 0.32 0.15
6.0 0.95 0.03 0.36 0.15 0.3 0.12 0.3 0.15
6.5 0.95 0.03 0.38 0.15 0.28 0.12 0.32 0.15
7.0 0.95 0.03 0.4 0.15 0.25 0.12 0.33 0.15
7.5 0.95 0.03 0.4 0.15 0.28 0.12 0.34 0.15
8.0 0.95 0.03 0.4 0.15 0.3 0.12 0.35 0.15
}\sFtew
\pgfplotstableread{
x a da b db c dc d dd
0 -80 10 -70 10 -70 10 -70 10
0.1 35 8 -60 15 -40 10 -50 15
0.3 45 6 -55 15 -25 8 -45 15
0.5 48 5 -45 15 -22 8 -40 15
0.8 50 5 -40 15 -20 8 -38 15
1.0 52 5 -38 15 -18 8 -35 15
1.5 52 5 -30 15 -18 8 -32 20
2.0 53 5 -28 15 -17 8 -28 20
2.5 53 5 -27 15 -16 8 -25 20
3.0 54 5 -28 15 -15 8 -24 20
3.5 53 5 -26 15 -16 8 -26 20
4.0 52 5 -25 15 -15 8 -28 20
4.5 53 5 -24 15 -14 8 -25 20
5.0 54 5 -23 15 -14 8 -24 20
5.5 53 5 -25 15 -15 8 -26 20
6.0 52 5 -26 15 -16 8 -25 20
6.5 53 5 -28 15 -15 8 -24 20
7.0 52 5 -29 15 -15 8 -24 20
7.5 52 5 -27 15 -16 8 -26 20
8.0 52 5 -26 15 -16 8 -27 20
}\sFtes

\pgfplotsset{
  panel/.style={
    scale only axis, anchor=north west,
    xmin=0, enlargelimits=false,
    axis line style={gray!70, line width=0.4pt},
    tick pos=left, tick align=outside,
    major tick length=1.5pt,
    every tick/.style={gray!80, line width=0.3pt},
    /pgf/number format/assume math mode=true,
    ticklabel style={font=\fontsize{5}{5.5}\selectfont, inner sep=1pt},
    title style={font=\fontsize{7.8}{8.5}\selectfont, yshift=-2.8pt},
    xlabel={Episode},
    xlabel style={font=\fontsize{5.8}{6.5}\selectfont, yshift=3.5pt},
    ylabel style={font=\fontsize{5.8}{6.5}\selectfont, yshift=-4pt},
    legend cell align=left,
    legend style={at={(0.985,0.02)}, anchor=south east,
      font=\fontsize{3.7}{4.2}\selectfont, draw=gray!40, fill=white,
      inner sep=1pt, row sep=-0.3pt,
      nodes={inner sep=0.8pt}},
    legend image code/.code={\draw[##1] (0pt,0pt) -- (8pt,0pt);},
  },
  wr/.style={ylabel={Win Rate},
    yticklabel style={/pgf/number format/.cd, fixed, fixed zerofill, precision=1}},
  fs/.style={ylabel={Final Score}},
  xe/.style={xmax=8, xtick={0,1,2,3,4,5,6,7,8}},
  xs/.style={xmax=6, xtick={0,1,2,3,4,5,6}},
}

% one mean line with its shaded spread
\newcommand{\band}[3]{%
  \addplot[draw=none, name path=U#2, forget plot] table[x=x, y expr=\thisrow{#2}+\thisrow{d#2}] {#1};
  \addplot[draw=none, name path=L#2, forget plot] table[x=x, y expr=\thisrow{#2}-\thisrow{d#2}] {#1};
  \addplot[fill=#3, fill opacity=0.22, draw=none, forget plot] fill between[of=U#2 and L#2];
}
\newcommand{\runs}[1]{%
  \band{#1}{a}{cA}\band{#1}{b}{cB}\band{#1}{c}{cC}\band{#1}{d}{cD}
  \addplot[cA, line width=0.7pt] table[x=x, y=a] {#1};
  \addplot[cB, line width=0.7pt] table[x=x, y=b] {#1};
  \addplot[cC, line width=0.7pt] table[x=x, y=c] {#1};
  \addplot[cD, line width=0.7pt] table[x=x, y=d] {#1};
  \legend{HRL-IM/CBS, HRL-CBS, RL-IM/Script, RL-Script}
}
% #1 left, #2 top, #3 width, #4 height, #5 title, #6 table, #7 axis options
\newcommand{\panel}[7]{%
  \begin{axis}[panel, at={(#1pt,-#2pt)}, width=#3pt, height=#4pt, title={#5}, #7]
    \runs{#6}
    \node[anchor=north east, font=\fontsize{3.2}{3.2}\selectfont, inner sep=0pt]
      at (rel axis cs:1,0) [yshift=-6pt, xshift=1pt] {1e4};
  \end{axis}}

\begin{document}
\begin{tikzpicture}

% sce-1
\panel{20}{15}{132}{74}{Train Win Rate}{\sAtrw}{wr, xe, ymin=-0.02, ymax=1.03, ytick={0,0.2,0.4,0.6,0.8,1.0}}
\panel{171}{15}{132}{74}{Train Final Score}{\sAtrs}{fs, xe, ymin=-56, ymax=53, ytick={-40,-20,0,20,40}}
\panel{20}{114}{132}{75}{Test Win Rate}{\sAtew}{wr, xe, ymin=-0.02, ymax=1.03, ytick={0,0.2,0.4,0.6,0.8,1.0}}
\panel{171}{114}{132}{75}{Test Final Score}{\sAtes}{fs, xe, ymin=-56, ymax=53, ytick={-40,-20,0,20,40}}
% sce-2
\panel{325}{15}{132}{74}{Train Win Rate}{\sBtrw}{wr, xs, ymin=0.01, ymax=1.03, ytick={0.2,0.4,0.6,0.8,1.0}}
\panel{475}{15}{133}{74}{Train Final Score}{\sBtrs}{fs, xs, ymin=-29, ymax=83, ytick={-20,0,20,40,60,80}}
\panel{325}{114}{132}{75}{Test Win Rate}{\sBtew}{wr, xs, ymin=0.01, ymax=1.03, ytick={0.2,0.4,0.6,0.8,1.0}}
\panel{475}{114}{133}{75}{Test Final Score}{\sBtes}{fs, xs, ymin=-29, ymax=83, ytick={-20,0,20,40,60,80}}
% sce-3
\panel{629}{15}{131}{74}{Train Win Rate}{\sCtrw}{wr, xe, ymin=-0.04, ymax=1.03, ytick={0,0.2,0.4,0.6,0.8,1.0}}
\panel{781}{15}{132}{74}{Train Final Score}{\sCtrs}{fs, xe, ymin=-98, ymax=53, ytick={-80,-60,-40,-20,0,20,40}}
\panel{629}{114}{131}{75}{Test Win Rate}{\sCtew}{wr, xe, ymin=-0.04, ymax=1.03, ytick={0,0.2,0.4,0.6,0.8,1.0}}
\panel{781}{114}{132}{75}{Test Final Score}{\sCtes}{fs, xe, ymin=-55, ymax=48, ytick={-40,-20,0,20,40}}
% sce-1m
\panel{23}{255}{131}{77}{Train Win Rate}{\sDtrw}{wr, xe, ymin=-0.01, ymax=1.04, ytick={0.2,0.4,0.6,0.8,1.0}}
\panel{172}{255}{131}{77}{Train Final Score}{\sDtrs}{fs, xe, ymin=-50, ymax=29, ytick={-40,-20,0,20}}
\panel{23}{360}{131}{77}{Test Win Rate}{\sDtew}{wr, xe, ymin=-0.01, ymax=1.04, ytick={0.2,0.4,0.6,0.8,1.0}}
\panel{172}{360}{131}{77}{Test Final Score}{\sDtes}{fs, xe, ymin=-50, ymax=29, ytick={-40,-20,0,20}}
% sce-2m
\panel{327}{255}{132}{77}{Train Win Rate}{\sEtrw}{wr, xs, ymin=-0.01, ymax=1.045, ytick={0.2,0.4,0.6,0.8,1.0}}
\panel{478}{255}{132}{77}{Train Final Score}{\sEtrs}{fs, xs, ymin=-36, ymax=57, ytick={-20,0,20,40}}
\panel{327}{360}{132}{77}{Test Win Rate}{\sEtew}{wr, xs, ymin=-0.01, ymax=1.045, ytick={0.2,0.4,0.6,0.8,1.0}}
\panel{478}{360}{132}{77}{Test Final Score}{\sEtes}{fs, xs, ymin=-36, ymax=57, ytick={-20,0,20,40}}
% sce-3m
\panel{627}{255}{131}{77}{Train Win Rate}{\sFtrw}{wr, xe, ymin=-0.05, ymax=1.05, ytick={0,0.2,0.4,0.6,0.8,1.0}}
\panel{779}{255}{130}{77}{Train Final Score}{\sFtrs}{fs, xe, ymin=-116, ymax=64, ytick={-100,-80,-60,-40,-20,0,20,40,60}}
\panel{627}{360}{131}{77}{Test Win Rate}{\sFtew}{wr, xe, ymin=-0.05, ymax=1.05, ytick={0,0.2,0.4,0.6,0.8,1.0}}
\panel{779}{360}{130}{77}{Test Final Score}{\sFtes}{fs, xe, ymin=-116, ymax=64, ytick={-100,-80,-60,-40,-20,0,20,40,60}}

% sub-figure captions
\begin{scope}[every node/.style={font=\fontsize{20}{20}\selectfont, inner sep=0pt}]
\node at (155pt,-216pt) {a) sce-1};
\node at (463pt,-216pt) {b) sce-2};
\node at (768pt,-216pt) {c) sce-3};
\node at (155pt,-466pt) {d) sce-1m};
\node at (465pt,-466pt) {e) sce-2m};
\node at (770pt,-466pt) {f) sce-3m};
\end{scope}

% page frame
\path (0,0) rectangle (919pt,-478pt);
\end{tikzpicture}
\end{document}
